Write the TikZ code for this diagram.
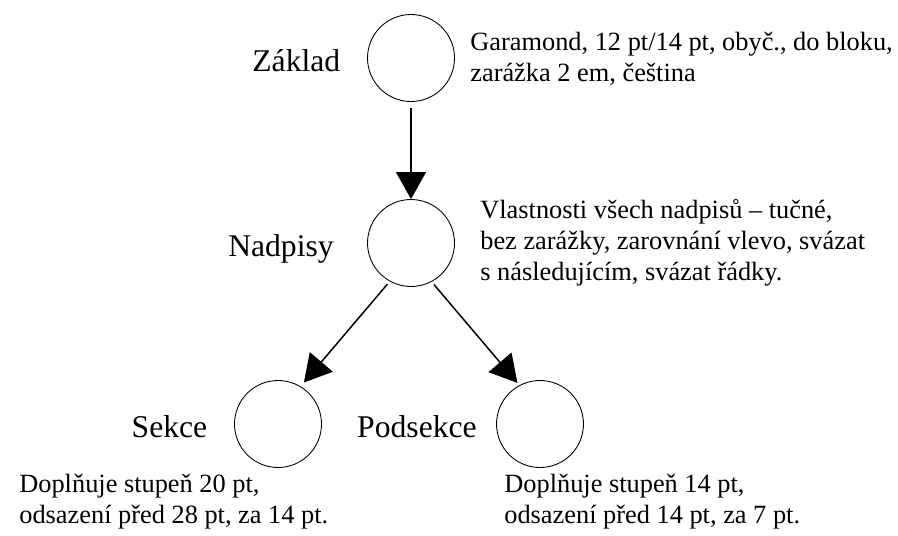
\documentclass[tikz,border=0pt]{standalone}
\usepackage{fontspec}
\setmainfont{Liberation Serif}
\usetikzlibrary{positioning,arrows.meta}

\begin{document}
\begin{tikzpicture}[node distance=3.7cm,on grid,
    uzel/.style={circle,draw,line width=0.5pt,minimum size=1.74cm,inner sep=0pt},
    popis/.style={font=\fontsize{18}{21}\selectfont,inner sep=0pt},
    pozn/.style={font=\fontsize{15}{17.5}\selectfont,align=left,inner sep=0pt},
    sip/.style={-{Triangle[length=0.54cm,width=0.6cm]},line width=0.85pt}]
   \useasboundingbox (0,0) rectangle (17.96,-10.70);
   \node[uzel] (zakl) at (8.22,-1.16) {};
   \node[uzel] (nadp) [below=of zakl] {};
   \node[uzel] (sekc) [below left=3.62cm and 2.66cm of nadp] {};
   \node[uzel] (podsek) [below right=3.62cm and 2.58cm of nadp] {};
   % popisky vlevo od kruhu
   \node[popis,anchor=base east] (zakl_l) at ([xshift=-0.53cm,yshift=-0.27cm]zakl.west) {Základ};
   \node[popis,anchor=base east] (nadp_l) at ([xshift=-0.66cm,yshift=-0.27cm]nadp.west) {Nadpisy};
   \node[popis,anchor=base east] (sekc_l) at ([xshift=-0.53cm,yshift=-0.27cm]sekc.west) {Sekce};
   \node[popis,anchor=base east] (podsek_l) at ([xshift=-0.38cm,yshift=-0.27cm]podsek.west) {Podsekce};
   % vlastnosti (base = posledni radek)
   \node[pozn,anchor=base west] (zakl_p) at ([xshift=1.18cm,yshift=-0.46cm]zakl.center)
      {Garamond, 12 pt/14 pt, obyč., do bloku,\\zarážka 2 em, čeština};
   \node[pozn,anchor=base west] (nadp_p) at ([xshift=1.38cm,yshift=-0.74cm]nadp.center)
      {Vlastnosti všech nadpisů – tučné,\\bez zarážky, zarovnání vlevo, svázat\\s následujícím, svázat řádky.};
   \node[pozn,anchor=base west] (sekc_p) at ([xshift=-5.18cm,yshift=-1.98cm]sekc.center)
      {Doplňuje stupeň 20 pt,\\odsazení před 28 pt, za 14 pt.};
   \node[pozn,anchor=base west] (podsek_p) at ([xshift=-0.72cm,yshift=-1.98cm]podsek.center)
      {Doplňuje stupeň 14 pt,\\odsazení před 14 pt, za 7 pt.};
   \path[sip]
    (zakl) edge [shorten <=0.13cm] (nadp)
    (nadp.241) edge [shorten <=0.07cm,shorten >=0.1cm] (sekc.59)
    (nadp.298) edge [shorten <=0.07cm,shorten >=0.06cm] (podsek.118);
\end{tikzpicture}
\end{document}
